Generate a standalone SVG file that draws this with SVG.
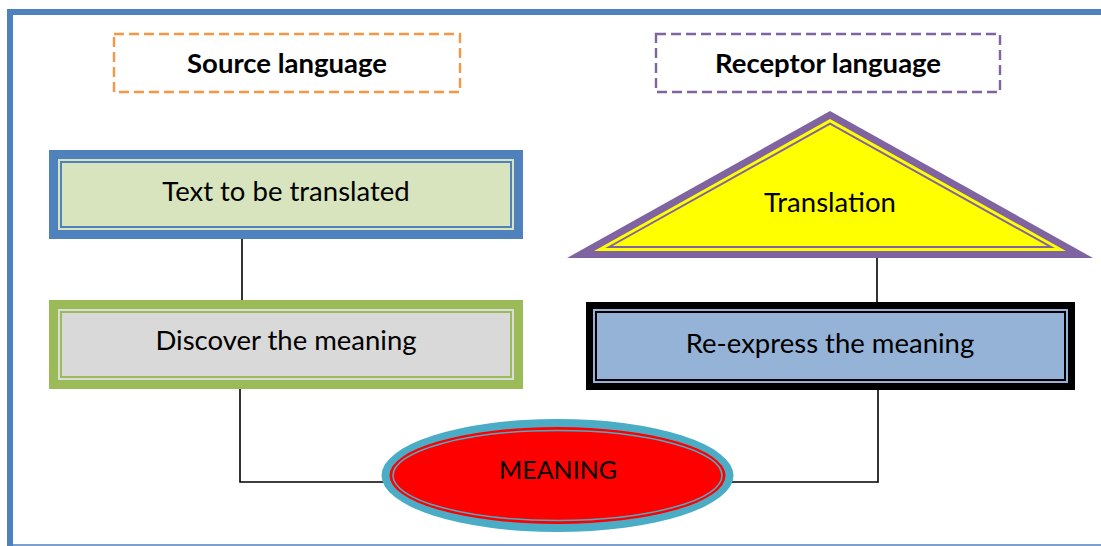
<svg xmlns="http://www.w3.org/2000/svg" width="1101" height="546" viewBox="0 0 1101 546">
  <style>
    .lbl { font-family: Lato, "Liberation Sans", sans-serif; font-size: 27.5px; fill: #000; text-anchor: middle; }
    .cap { font-family: Lato, "Liberation Sans", sans-serif; font-size: 25px; fill: #000; text-anchor: middle; }
    .hdr { font-family: Lato, "Liberation Sans", sans-serif; font-size: 27.5px; font-weight: bold; fill: #000; text-anchor: middle; }
    .dash { fill: none; stroke-width: 2.4; stroke-dasharray: 10 5; }
    .conn { fill: none; stroke: #000; stroke-width: 1.6; }
  </style>

  <!-- page frame -->
  <rect x="0" y="0" width="1101" height="546" fill="#fff"/>
  <g id="frame">
    <line x1="10" y1="12" x2="1101" y2="12" stroke="#4F81BD" stroke-width="6"/>
    <line x1="10" y1="9" x2="10" y2="546" stroke="#4F81BD" stroke-width="6"/>
    <line x1="10" y1="545" x2="1101" y2="545" stroke="#4F81BD" stroke-width="1.5"/>
  </g>

  <!-- connectors -->
  <g id="connectors">
    <polyline class="conn" points="242,239 242,300"/>
    <polyline class="conn" points="240,386 240,482 384,482"/>
    <polyline class="conn" points="877,254 877,302"/>
    <polyline class="conn" points="731,482 878,482 878,390"/>
  </g>

  <!-- column headings -->
  <g id="source-language">
    <rect class="dash" x="114" y="34" width="346" height="58" stroke="#F79646"/>
    <text class="hdr" x="287" y="73">Source language</text>
  </g>
  <g id="receptor-language">
    <rect class="dash" x="656" y="34" width="344" height="58" stroke="#8064A2"/>
    <text class="hdr" x="828" y="73">Receptor language</text>
  </g>

  <!-- source side -->
  <g id="text-to-be-translated">
    <rect x="49" y="150" width="474" height="89" fill="#4F81BD"/>
    <rect x="58" y="159" width="456" height="71" fill="#D7E4BD"/>
    <rect x="61" y="162" width="450" height="65" fill="#D7E4BD" stroke="#4F81BD" stroke-width="2"/>
    <text class="lbl" x="286" y="201">Text to be translated</text>
  </g>
  <g id="discover-the-meaning">
    <rect x="49" y="300" width="474" height="89" fill="#9BBB59"/>
    <rect x="58" y="309" width="456" height="71" fill="#DCDCDC"/>
    <rect x="61" y="312" width="450" height="65" fill="#D9D9D9" stroke="#9BBB59" stroke-width="2"/>
    <text class="lbl" x="286" y="350">Discover the meaning</text>
  </g>

  <!-- receptor side -->
  <g id="translation">
    <polygon points="567,258 830,111 1093,258" fill="#8064A2"/>
    <polygon points="594,251 830,119 1066,251" fill="#FFFF00"/>
    <polygon points="609,247 830,123.6 1051,247" fill="#FFFF00" stroke="#8064A2" stroke-width="2"/>
    <text class="lbl" x="830" y="212">Translation</text>
  </g>
  <g id="re-express-the-meaning">
    <rect x="586" y="302" width="489" height="88" fill="#000"/>
    <rect x="593" y="309" width="475" height="74" fill="#95B3D7"/>
    <rect x="596" y="312" width="469" height="68" fill="#95B3D7" stroke="#000" stroke-width="2"/>
    <text class="lbl" x="830" y="353">Re-express the meaning</text>
  </g>

  <!-- centre -->
  <g id="meaning">
    <ellipse cx="557.5" cy="475.5" rx="176" ry="56.5" fill="#4BACC6"/>
    <ellipse cx="557.5" cy="475.5" rx="168" ry="48.5" fill="#FF0000"/>
    <ellipse cx="557.5" cy="475.5" rx="164.5" ry="45" fill="#FF0000" stroke="#4BACC6" stroke-width="1.6"/>
    <text class="cap" x="558" y="479">MEANING</text>
  </g>
</svg>
